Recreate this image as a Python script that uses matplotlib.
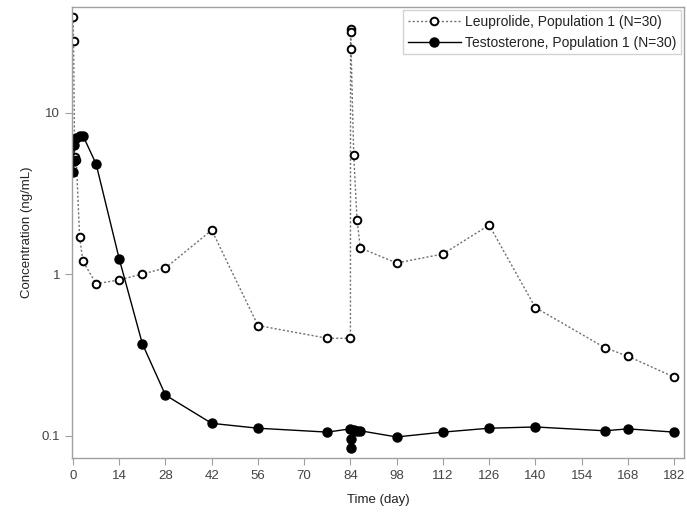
import matplotlib
matplotlib.use("Agg")
import matplotlib.pyplot as plt

plt.rcParams["font.family"] = ["Liberation Sans", "DejaVu Sans"]

# Mean concentration-time profiles
leu_day = [0.04, 0.17, 0.5, 1, 2, 3, 7, 14, 21, 28, 42, 56, 77, 84,
           84.04, 84.08, 84.2, 85, 86, 87, 98, 112, 126, 140, 161, 168, 182]
leu_conc = [39.0, 27.7, 5.3, 5.1, 1.7, 1.2, 0.87, 0.92, 1.0, 1.09, 1.87, 0.48, 0.40, 0.40,
            32.9, 31.5, 24.7, 5.46, 2.16, 1.45, 1.17, 1.33, 2.01, 0.62, 0.35, 0.31, 0.23]

tes_day = [0, 0.17, 0.33, 1, 2, 3, 7, 14, 21, 28, 42, 56, 77, 84,
           84.04, 84.17, 85, 86, 87, 98, 112, 126, 140, 161, 168, 182]
tes_conc = [4.3, 5.0, 6.3, 7.0, 7.2, 7.2, 4.8, 1.24, 0.37, 0.178, 0.119, 0.111, 0.105, 0.110,
            0.095, 0.084, 0.108, 0.107, 0.107, 0.098, 0.105, 0.111, 0.113, 0.107, 0.110, 0.105]

x_ticks = list(range(0, 183, 14))
y_ticks = [0.1, 1, 10]
y_tick_labels = ["0.1", "1", "10"]

fig = plt.figure(figsize=(6.87, 5.12), dpi=100)
ax = fig.add_axes([72 / 687, 1 - 458 / 512, 612 / 687, 451 / 512])

ax.plot(leu_day, leu_conc, linestyle=(0, (1.5, 1.5)), color="#707070", lw=1.0,
        marker="o", markersize=5.5, markerfacecolor="white",
        markeredgecolor="black", markeredgewidth=1.4,
        label="Leuprolide, Population 1 (N=30)")
ax.plot(tes_day, tes_conc, linestyle="-", color="black", lw=1.0,
        marker="o", markersize=6.5, markerfacecolor="black",
        markeredgecolor="black", label="Testosterone, Population 1 (N=30)")

ax.set_yscale("log")
ax.set_ylim(0.0726, 45)
ax.set_xlim(-0.3, 185)
ax.set_xticks(x_ticks)
ax.set_yticks(y_ticks)
ax.set_yticklabels(y_tick_labels)
ax.minorticks_off()

for side in ax.spines.values():
    side.set_color("#a0a0a0")
    side.set_linewidth(1.0)
ax.tick_params(colors="#a0a0a0", labelcolor="#444444", labelsize=9.5, length=5)

ax.set_xlabel("Time (day)", fontsize=9.5, color="#222222", labelpad=9)
ax.set_ylabel("Concentration (ng/mL)", fontsize=9.5, color="#222222", labelpad=6)

leg = ax.legend(loc="upper right", fontsize=10, frameon=True, fancybox=False,
                borderpad=0.35, handlelength=3.8, handletextpad=0.3,
                labelspacing=0.5, borderaxespad=0.2)
leg.get_frame().set_edgecolor("#c8c8c8")
leg.get_frame().set_linewidth(1.0)
for t in leg.get_texts():
    t.set_color("#222222")

fig.savefig("out.png", dpi=100)
